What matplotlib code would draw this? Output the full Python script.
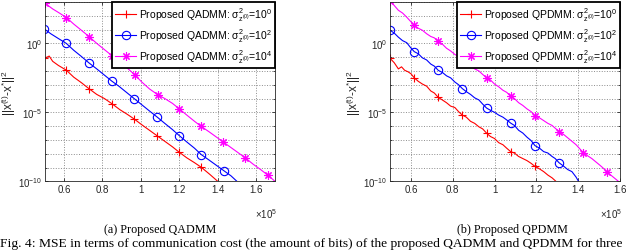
import numpy as np
import matplotlib
matplotlib.use("Agg")
import matplotlib.pyplot as plt
from matplotlib.ticker import FixedLocator, LogFormatterMathtext, NullFormatter

plt.rcParams["font.family"] = ["Liberation Sans", "DejaVu Sans"]
plt.rcParams["mathtext.fontset"] = "custom"
plt.rcParams["mathtext.rm"] = "Liberation Sans"
plt.rcParams["mathtext.it"] = "Liberation Sans:italic"
plt.rcParams["mathtext.default"] = "regular"

# ---- (a) QADMM: communication cost (x1e5) vs log10 MSE ----
qadmm_x_s0 = [0.497, 0.51, 0.522, 0.54, 0.57, 0.611, 0.65, 0.69, 0.729, 0.77, 0.81, 0.849, 0.89, 0.93,
              0.965, 1.005, 1.045, 1.083, 1.125, 1.165, 1.2, 1.24, 1.28, 1.315, 1.36, 1.405, 1.44]
qadmm_y_s0 = [-1.04, -1.0, -0.92, -1.3, -1.6, -1.94, -2.45, -2.85, -3.28, -3.7, -4.0, -4.37, -4.8, -5.15,
              -5.48, -5.9, -6.3, -6.68, -7.1, -7.5, -7.89, -8.3, -8.65, -8.98, -9.5, -10.05, -10.4]
qadmm_m_s0 = [0, 5, 8, 11, 14, 17, 20, 23]

qadmm_x_s2 = [0.497, 0.53, 0.57, 0.611, 0.65, 0.69, 0.729, 0.77, 0.81, 0.849, 0.885, 0.925, 0.965,
              1.005, 1.045, 1.085, 1.125, 1.165, 1.2, 1.24, 1.28, 1.315, 1.355, 1.395, 1.432, 1.47,
              1.505, 1.53]
qadmm_y_s2 = [1.04, 0.7, 0.35, 0.0, -0.5, -0.95, -1.41, -1.85, -2.3, -2.74, -3.1, -3.55, -4.0,
              -4.45, -4.9, -5.34, -5.8, -6.25, -6.68, -7.15, -7.6, -8.06, -8.45, -8.85, -9.22, -9.6,
              -10.05, -10.4]
qadmm_m_s2 = [0, 3, 6, 9, 12, 15, 18, 21, 24]

qadmm_x_s4 = [0.5, 0.54, 0.575, 0.612, 0.65, 0.69, 0.73, 0.77, 0.81, 0.85, 0.89, 0.93, 0.967, 1.005,
              1.045, 1.087, 1.125, 1.165, 1.199, 1.24, 1.28, 1.315, 1.355, 1.395, 1.431, 1.47, 1.51,
              1.545, 1.585, 1.625, 1.661, 1.70, 1.72]
qadmm_y_s4 = [2.91, 2.5, 2.2, 1.87, 1.4, 0.95, 0.49, 0.0, -0.45, -0.9, -1.35, -1.8, -2.26, -2.8,
              -3.3, -3.71, -4.0, -4.35, -4.73, -5.2, -5.65, -6.02, -6.4, -6.8, -7.16, -7.55, -7.95,
              -8.3, -8.75, -9.15, -9.54, -10.0, -10.2]
qadmm_m_s4 = [0, 3, 6, 9, 12, 15, 18, 21, 24, 27, 30]

# ---- (b) QPDMM ----
qpdmm_x_s0 = [0.5, 0.52, 0.54, 0.555, 0.57, 0.585, 0.6, 0.616, 0.635, 0.655, 0.675, 0.695, 0.712,
              0.731, 0.75, 0.77, 0.79, 0.81, 0.828, 0.846, 0.865, 0.885, 0.905, 0.925, 0.943, 0.962,
              0.98, 1.0, 1.02, 1.04, 1.058, 1.077, 1.095, 1.115, 1.135, 1.155, 1.175, 1.193, 1.215,
              1.235, 1.255, 1.275, 1.297, 1.31]
qpdmm_y_s0 = [-1.08, -1.4, -1.85, -1.7, -1.95, -2.05, -2.2, -2.5, -2.75, -2.95, -3.1, -3.45, -3.6,
              -3.92, -4.1, -4.3, -4.55, -4.65, -4.95, -5.2, -5.35, -5.65, -5.8, -6.05, -6.2, -6.51,
              -6.75, -6.9, -7.2, -7.35, -7.6, -7.85, -7.95, -8.2, -8.35, -8.5, -8.7, -8.92, -9.1,
              -9.3, -9.55, -9.75, -10.05, -10.3]
qpdmm_m_s0 = [0, 7, 13, 19, 25, 31, 37]

qpdmm_x_s2 = [0.5, 0.52, 0.54, 0.56, 0.58, 0.598, 0.616, 0.635, 0.655, 0.675, 0.695, 0.712, 0.731,
              0.75, 0.77, 0.79, 0.81, 0.828, 0.846, 0.865, 0.885, 0.905, 0.925, 0.943, 0.962, 0.98,
              1.0, 1.02, 1.04, 1.058, 1.077, 1.095, 1.115, 1.135, 1.155, 1.175, 1.193, 1.215, 1.235,
              1.255, 1.275, 1.29, 1.308, 1.33, 1.35, 1.37, 1.39, 1.405, 1.42]
qpdmm_y_s2 = [0.95, 0.75, 0.45, 0.2, 0.05, -0.3, -0.6, -0.75, -1.05, -1.2, -1.5, -1.65, -1.96,
              -2.1, -2.35, -2.5, -2.8, -3.0, -3.28, -3.5, -3.7, -3.95, -4.1, -4.4, -4.69, -4.85,
              -5.0, -5.2, -5.35, -5.55, -5.78, -5.95, -6.3, -6.5, -6.8, -7.05, -7.41, -7.6, -7.85,
              -7.95, -8.2, -8.35, -8.65, -8.9, -9.15, -9.3, -9.7, -10.1, -10.4]
qpdmm_m_s2 = [0, 6, 12, 18, 24, 30, 36, 42]

qpdmm_x_s4 = [0.5, 0.52, 0.54, 0.56, 0.58, 0.598, 0.616, 0.635, 0.655, 0.675, 0.695, 0.712, 0.731,
              0.75, 0.77, 0.79, 0.81, 0.828, 0.846, 0.865, 0.885, 0.905, 0.925, 0.943, 0.962, 0.98,
              1.0, 1.02, 1.04, 1.058, 1.077, 1.095, 1.115, 1.135, 1.155, 1.175, 1.193, 1.215, 1.235,
              1.255, 1.275, 1.29, 1.308, 1.33, 1.35, 1.37, 1.39, 1.405, 1.424, 1.445, 1.465, 1.485,
              1.505, 1.52, 1.539, 1.56, 1.58, 1.6, 1.62]
qpdmm_y_s4 = [3.1, 2.75, 2.4, 2.2, 1.9, 1.6, 1.3, 1.1, 0.95, 0.7, 0.5, 0.4, 0.14, -0.05, -0.35,
              -0.55, -0.8, -0.95, -1.2, -1.45, -1.65, -1.85, -2.0, -2.25, -2.5, -2.65, -2.95, -3.15,
              -3.4, -3.55, -3.83, -4.0, -4.3, -4.5, -4.75, -4.95, -5.25, -5.4, -5.6, -5.8, -5.95,
              -6.15, -6.39, -6.6, -6.85, -7.1, -7.35, -7.6, -7.92, -8.15, -8.35, -8.6, -8.85, -9.05,
              -9.36, -9.6, -9.85, -10.1, -10.3]
qpdmm_m_s4 = [0, 6, 12, 18, 24, 30, 36, 42, 48, 54]

sigma_exps = ["0", "2", "4"]
colors = ["#ff0000", "#0000ff", "#ff00ff"]
markers = ["+", "o", (8, 2, 0)]

DARK = "0.15"


def style_axes(ax, xmax):
    ax.set_yscale("log")
    ax.set_xlim(0.5, xmax)
    ax.set_ylim(1e-10, 1e3)
    ax.set_xticks([0.6, 0.8, 1.0, 1.2, 1.4, 1.6])
    ax.set_xticklabels(["0.6", "0.8", "1", "1.2", "1.4", "1.6"])
    ax.yaxis.set_major_locator(FixedLocator([1e-10, 1e-5, 1e0]))
    ax.yaxis.set_major_formatter(LogFormatterMathtext())
    ax.yaxis.set_minor_locator(FixedLocator([10.0 ** k for k in range(-10, 4)]))
    ax.yaxis.set_minor_formatter(NullFormatter())
    ax.grid(True, which="both", linestyle=":", color="0.55", linewidth=0.7)
    ax.tick_params(which="both", direction="in", labelsize=7, colors=DARK,
                   length=2.5, width=0.6, top=True, right=True, pad=2)
    ax.tick_params(which="minor", length=1.5)
    for s in ax.spines.values():
        s.set_color(DARK)
        s.set_linewidth(0.6)
    ax.set_ylabel(r"||x$^{(t)}$-x$^{*}$||$^2$", fontsize=8.5, color=DARK)
    ax.yaxis.label.set_verticalalignment("center")
    ax.yaxis.set_label_coords(-0.155, 0.5)
    ax.text(1.01, -0.14, r"$\times$10$^5$", transform=ax.transAxes, ha="right", va="top",
            fontsize=7, color=DARK)


fig = plt.figure(figsize=(6.4, 2.51), dpi=100)
ax1 = fig.add_axes([0.0703, 0.2737, 0.3594, 0.7143])
ax2 = fig.add_axes([0.6094, 0.2737, 0.3594, 0.7143])

panels = [
    (ax1, "QADMM", 1.7,
     [(qadmm_x_s0, qadmm_y_s0, qadmm_m_s0), (qadmm_x_s2, qadmm_y_s2, qadmm_m_s2),
      (qadmm_x_s4, qadmm_y_s4, qadmm_m_s4)]),
    (ax2, "QPDMM", 1.6,
     [(qpdmm_x_s0, qpdmm_y_s0, qpdmm_m_s0), (qpdmm_x_s2, qpdmm_y_s2, qpdmm_m_s2),
      (qpdmm_x_s4, qpdmm_y_s4, qpdmm_m_s4)]),
]

for ax, name, xmax, series in panels:
    for (xs, ys, mk), c, m, e in zip(series, colors, markers, sigma_exps):
        label = r"Proposed %s: $\sigma^2_{z^{(0)}}$=10$^{%s}$" % (name, e)
        ax.plot(xs, 10.0 ** np.array(ys), color=c, linewidth=0.8, marker=m, markevery=mk,
                markersize=6, markerfacecolor="none", markeredgewidth=0.8, label=label)
    style_axes(ax, xmax)
    leg = ax.legend(loc="upper right", fontsize=7.5, fancybox=False, framealpha=1,
                    edgecolor="black", borderaxespad=0.0, handlelength=2.0,
                    handletextpad=0.25, labelspacing=0.3, borderpad=0.3)
    leg.get_frame().set_linewidth(1.3)
    leg.set_zorder(5)

fig.text(0.25, 0.085, "(a) Proposed QADMM", family="Liberation Serif", fontsize=8.7,
         ha="center", va="center")
fig.text(0.80, 0.085, "(b) Proposed QPDMM", family="Liberation Serif", fontsize=8.7,
         ha="center", va="center")
fig.text(0.0, 0.004, "Fig. 4: MSE in terms of communication cost (the amount of bits) "
         "of the proposed QADMM and QPDMM for three", family="Liberation Serif",
         fontsize=9.7, ha="left", va="bottom")

fig.savefig("out.png", dpi=100)
